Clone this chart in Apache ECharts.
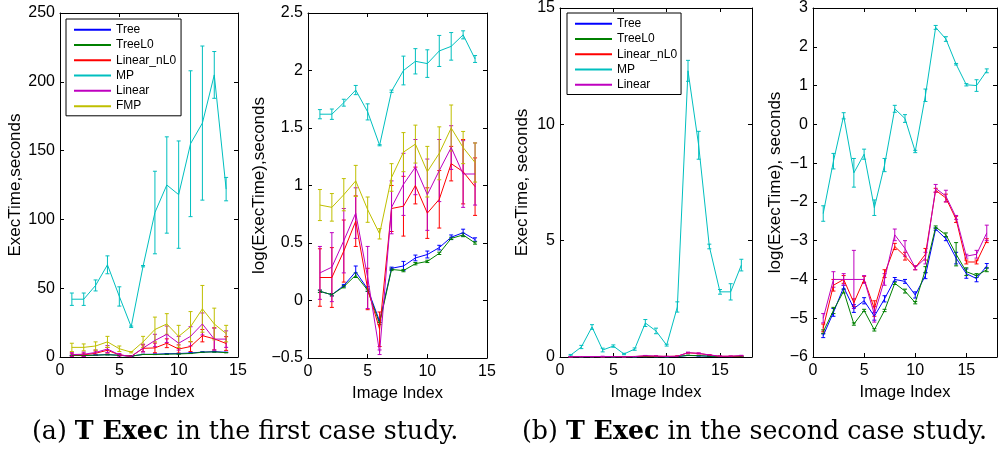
<!DOCTYPE html>
<html>
<head>
<meta charset="utf-8">
<script src="https://cdn.jsdelivr.net/npm/echarts@6/dist/echarts.min.js"></script>
<style>
  html, body { margin: 0; padding: 0; background: #fff; }
  #chart { width: 1000px; height: 452px; }
</style>
</head>
<body>
<div id="chart"></div>
<script>
// ---- (a) first case study, 14 images ----
const idxA = [1, 2, 3, 4, 5, 6, 7, 8, 9, 10, 11, 12, 13, 14];

const p1Tree = [1.2, 1.1, 1.35, 1.8, 1.25, 0.65, 1.9, 2.0, 2.35, 2.5, 2.9, 3.55, 3.9, 3.4];
const p1TreeErr = [0.05, 0.05, 0.05, 0.2, 0.1, 0.05, 0.05, 0.2, 0.15, 0.2, 0.15, 0.15, 0.25, 0.1];
const p1TreeL0 = [1.2, 1.1, 1.3, 1.65, 1.2, 0.6, 1.85, 1.8, 2.1, 2.2, 2.55, 3.45, 3.7, 3.15];
const p1TreeL0Err = [0.05, 0.05, 0.05, 0.1, 0.05, 0.05, 0.05, 0.05, 0.1, 0.05, 0.05, 0.1, 0.1, 0.1];
const p1LinearNL0 = [1.6, 1.6, 2.7, 4.9, 1.5, 0.5, 6.3, 6.6, 10, 5.8, 7.6, 15.5, 13.2, 9.8];
const p1LinearNL0Err = [1.2, 1.2, 1.6, 2.0, 0.5, 0.2, 2.5, 3.5, 3.2, 3.0, 3.6, 4.5, 8.0, 5.0];
const p1MP = [42, 42, 52, 67, 44, 22, 66, 105, 125, 118, 155, 170, 205, 122];
const p1MPErr = [4.5, 4.5, 4, 6.5, 7, 0.5, 0.5, 30, 35, 39, 53, 56, 17, 8.5];
const p1Linear = [1.8, 2, 3.3, 5.8, 1.6, 0.4, 6.5, 12, 16.5, 10, 15, 24, 13, 13];
const p1LinearErr = [1.3, 1.6, 1.8, 2.5, 1.0, 0.1, 2.8, 4.5, 6, 5, 7, 8, 8, 6];
const p1FMP = [7, 7, 8, 11, 6, 3.5, 11, 20, 24, 15, 22, 35, 24, 17];
const p1FMPErr = [3, 2.5, 3, 4, 2, 0.5, 4, 9, 7.5, 8, 11, 17, 11.5, 6];

const p2Tree = [0.08, 0.05, 0.13, 0.25, 0.1, -0.18, 0.28, 0.3, 0.37, 0.4, 0.46, 0.55, 0.59, 0.53];
const p2TreeErr = [0.01, 0.01, 0.01, 0.05, 0.02, 0.01, 0.01, 0.04, 0.025, 0.03, 0.02, 0.02, 0.03, 0.015];
const p2TreeL0 = [0.08, 0.05, 0.12, 0.22, 0.09, -0.2, 0.27, 0.26, 0.32, 0.34, 0.41, 0.54, 0.57, 0.5];
const p2TreeL0Err = [0.01, 0.01, 0.01, 0.02, 0.01, 0.01, 0.01, 0.01, 0.01, 0.01, 0.01, 0.01, 0.015, 0.01];
const p2LinearNL0 = [0.2, 0.2, 0.43, 0.69, 0.1, -0.25, 0.8, 0.82, 1.0, 0.76, 0.88, 1.19, 1.12, 0.99];
const p2LinearNL0Err = [0.25, 0.26, 0.27, 0.22, 0.18, 0.15, 0.2, 0.26, 0.16, 0.22, 0.25, 0.15, 0.28, 0.25];
const p2MP = [1.62, 1.62, 1.72, 1.83, 1.64, 1.35, 1.82, 2.0, 2.08, 2.06, 2.17, 2.21, 2.31, 2.1];
const p2MPErr = [0.04, 0.045, 0.03, 0.04, 0.07, 0.005, 0.01, 0.125, 0.11, 0.12, 0.135, 0.12, 0.035, 0.03];
const p2Linear = [0.24, 0.29, 0.52, 0.76, 0.2, -0.45, 0.81, 1.01, 1.16, 0.92, 1.13, 1.33, 1.1, 1.1];
const p2LinearErr = [0.23, 0.3, 0.28, 0.22, 0.27, 0.02, 0.23, 0.27, 0.24, 0.31, 0.27, 0.19, 0.29, 0.27];
const p2FMP = [0.83, 0.81, 0.92, 1.04, 0.79, 0.58, 1.07, 1.29, 1.36, 1.12, 1.28, 1.5, 1.33, 1.2];
const p2FMPErr = [0.135, 0.12, 0.14, 0.135, 0.11, 0.045, 0.12, 0.17, 0.165, 0.22, 0.23, 0.2, 0.14, 0.17];

// ---- (b) second case study, 17 images ----
const idxB = [1, 2, 3, 4, 5, 6, 7, 8, 9, 10, 11, 12, 13, 14, 15, 16, 17];

const p3Tree = [0.004, 0.008, 0.015, 0.009, 0.01, 0.007, 0.011, 0.018, 0.017, 0.012, 0.02, 0.067, 0.052, 0.032, 0.021, 0.019, 0.026];
const p3TreeErr = [0.001, 0.001, 0.001, 0.001, 0.001, 0.001, 0.001, 0.001, 0.001, 0.001, 0.002, 0.002, 0.003, 0.005, 0.003, 0.002, 0.002];
const p3TreeL0 = [0.005, 0.008, 0.014, 0.006, 0.008, 0.005, 0.008, 0.017, 0.014, 0.01, 0.024, 0.071, 0.058, 0.035, 0.022, 0.02, 0.024];
const p3TreeL0Err = [0.001, 0.001, 0.001, 0.001, 0.001, 0.001, 0.001, 0.001, 0.001, 0.001, 0.002, 0.002, 0.003, 0.01, 0.002, 0.001, 0.001];
const p3LinearNL0 = [0.005, 0.016, 0.018, 0.01, 0.018, 0.009, 0.021, 0.043, 0.033, 0.025, 0.035, 0.18, 0.15, 0.086, 0.029, 0.029, 0.05];
const p3LinearNL0Err = [0.001, 0.002, 0.002, 0.001, 0.002, 0.002, 0.002, 0.004, 0.003, 0.001, 0.005, 0.01, 0.015, 0.007, 0.002, 0.002, 0.003];
const p3MP = [0.08, 0.43, 1.29, 0.3, 0.47, 0.13, 0.34, 1.46, 1.12, 0.51, 2.15, 12.3, 9.1, 4.75, 2.8, 2.8, 3.95];
const p3MPErr = [0.03, 0.07, 0.1, 0.08, 0.05, 0.03, 0.05, 0.15, 0.12, 0.04, 0.22, 0.45, 0.6, 0.1, 0.1, 0.35, 0.25];
const p3Linear = [0.007, 0.018, 0.018, 0.018, 0.018, 0.007, 0.018, 0.058, 0.041, 0.025, 0.032, 0.19, 0.157, 0.091, 0.033, 0.035, 0.061];
const p3LinearErr = [0.001, 0.004, 0.003, 0.015, 0.002, 0.001, 0.003, 0.009, 0.008, 0.001, 0.005, 0.02, 0.02, 0.005, 0.002, 0.004, 0.012];

const p4Tree = [-5.45, -4.85, -4.2, -4.75, -4.55, -4.95, -4.5, -4.0, -4.05, -4.4, -3.9, -2.7, -2.95, -3.45, -3.85, -3.98, -3.65];
const p4TreeErr = [0.05, 0.1, 0.05, 0.1, 0.08, 0.1, 0.08, 0.05, 0.05, 0.08, 0.08, 0.03, 0.05, 0.15, 0.12, 0.08, 0.06];
const p4TreeL0 = [-5.35, -4.8, -4.3, -5.15, -4.8, -5.3, -4.8, -4.1, -4.3, -4.6, -3.75, -2.65, -2.85, -3.35, -3.8, -3.9, -3.75];
const p4TreeL0Err = [0.05, 0.08, 0.05, 0.03, 0.03, 0.03, 0.03, 0.03, 0.05, 0.03, 0.08, 0.03, 0.05, 0.3, 0.1, 0.05, 0.05];
const p4LinearNL0 = [-5.25, -4.15, -4.0, -4.6, -4.0, -4.75, -3.85, -3.15, -3.4, -3.7, -3.35, -1.7, -1.9, -2.45, -3.55, -3.55, -3.0];
const p4LinearNL0Err = [0.1, 0.15, 0.1, 0.1, 0.08, 0.2, 0.1, 0.08, 0.1, 0.05, 0.15, 0.05, 0.1, 0.08, 0.05, 0.05, 0.05];
const p4MP = [-2.3, -0.95, 0.22, -1.25, -0.77, -2.15, -1.05, 0.4, 0.15, -0.7, 0.75, 2.5, 2.2, 1.55, 1.02, 1.0, 1.38];
const p4MPErr = [0.2, 0.2, 0.08, 0.37, 0.13, 0.2, 0.17, 0.09, 0.1, 0.03, 0.16, 0.05, 0.06, 0.02, 0.03, 0.15, 0.05];
const p4Linear = [-5.0, -4.0, -4.0, -4.0, -4.0, -4.9, -4.0, -2.85, -3.2, -3.7, -3.45, -1.65, -1.85, -2.4, -3.4, -3.35, -2.8];
const p4LinearErr = [0.12, 0.2, 0.15, 0.75, 0.1, 0.2, 0.15, 0.15, 0.2, 0.05, 0.15, 0.1, 0.15, 0.05, 0.05, 0.1, 0.2];

// axis ticks
const yTicks1 = { min: 0, max: 250, interval: 50 };
const yTicks2 = { min: -0.5, max: 2.5, interval: 0.5 };
const yTicks3 = { min: 0, max: 15, interval: 5 };
const yTicks4 = { min: -6, max: 3, interval: 1 };
const xTicksA = { min: 0, max: 15, interval: 5 };
const xTicksB = { min: 0, max: 18, interval: 5 };

const colors = {
    Tree: '#0000ff',
    TreeL0: '#008000',
    Linear_nL0: '#ff0000',
    MP: '#00bfbf',
    Linear: '#bf00bf',
    FMP: '#bfbf00',
};

const panels = [
    {
        grid: { left: 60, top: 13, width: 178, height: 344 },
        x: idxA, xTicks: xTicksA, yTicks: yTicks1,
        yName: 'ExecTime,seconds', yGap: 36,
        lines: [
            ['Tree', p1Tree, p1TreeErr],
            ['TreeL0', p1TreeL0, p1TreeL0Err],
            ['Linear_nL0', p1LinearNL0, p1LinearNL0Err],
            ['MP', p1MP, p1MPErr],
            ['Linear', p1Linear, p1LinearErr],
            ['FMP', p1FMP, p1FMPErr],
        ],
    },
    {
        grid: { left: 308, top: 13, width: 179, height: 345 },
        x: idxA, xTicks: xTicksA, yTicks: yTicks2,
        yName: 'log(ExecTime),seconds', yGap: 37,
        lines: [
            ['Tree', p2Tree, p2TreeErr],
            ['TreeL0', p2TreeL0, p2TreeL0Err],
            ['Linear_nL0', p2LinearNL0, p2LinearNL0Err],
            ['MP', p2MP, p2MPErr],
            ['Linear', p2Linear, p2LinearErr],
            ['FMP', p2FMP, p2FMPErr],
        ],
    },
    {
        grid: { left: 560, top: 7, width: 192, height: 350 },
        x: idxB, xTicks: xTicksB, yTicks: yTicks3,
        yName: 'ExecTime, seconds', yGap: 29,
        lines: [
            ['Tree', p3Tree, p3TreeErr],
            ['TreeL0', p3TreeL0, p3TreeL0Err],
            ['Linear_nL0', p3LinearNL0, p3LinearNL0Err],
            ['MP', p3MP, p3MPErr],
            ['Linear', p3Linear, p3LinearErr],
        ],
    },
    {
        grid: { left: 813, top: 7, width: 192, height: 350 },
        x: idxB, xTicks: xTicksB, yTicks: yTicks4,
        yName: 'log(ExecTime), seconds', yGap: 29,
        lines: [
            ['Tree', p4Tree, p4TreeErr],
            ['TreeL0', p4TreeL0, p4TreeL0Err],
            ['Linear_nL0', p4LinearNL0, p4LinearNL0Err],
            ['MP', p4MP, p4MPErr],
            ['Linear', p4Linear, p4LinearErr],
        ],
    },
];

const font = 'Liberation Sans, Arial, sans-serif';
const serif = 'DejaVu Serif, serif';
const minus = (v) => String(v).replace('-', '\u2212');

// vertical error bar with small caps, placed through the axis scales
const errorBar = (params, api) => {
    const x = api.value(0);
    const y = api.value(1);
    const e = api.value(2);
    const hi = api.coord([x, y + e]);
    const lo = api.coord([x, y - e]);
    const cap = 2;
    const style = { stroke: api.visual('color'), lineWidth: 1 };
    return {
        type: 'group',
        children: [
            { type: 'line', shape: { x1: hi[0], y1: hi[1], x2: lo[0], y2: lo[1] }, style },
            { type: 'line', shape: { x1: hi[0] - cap, y1: hi[1], x2: hi[0] + cap, y2: hi[1] }, style },
            { type: 'line', shape: { x1: lo[0] - cap, y1: lo[1], x2: lo[0] + cap, y2: lo[1] }, style },
        ],
    };
};

const grid = [];
const xAxis = [];
const yAxis = [];
const series = [];

panels.forEach((p, i) => {
    grid.push({ ...p.grid, containLabel: false });

    const tick = { show: true, inside: true, length: 4, lineStyle: { color: '#000' } };
    const line = { show: true, onZero: false, lineStyle: { color: '#000', width: 1 } };

    xAxis.push({
        type: 'value', gridIndex: i, ...p.xTicks,
        axisLine: line, axisTick: tick, splitLine: { show: false },
        axisLabel: {
            color: '#000', fontSize: 16, fontFamily: font, margin: 6,
            formatter: (v) => (v % 5 === 0 ? String(v) : ''),
        },
        name: 'Image Index', nameLocation: 'middle', nameGap: 24,
        nameTextStyle: { color: '#000', fontSize: 16.5, fontFamily: font },
    });
    xAxis.push({
        type: 'value', gridIndex: i, position: 'top', ...p.xTicks,
        axisLine: line, axisTick: tick, axisLabel: { show: false }, splitLine: { show: false },
    });
    yAxis.push({
        type: 'value', gridIndex: i, ...p.yTicks,
        axisLine: line, axisTick: tick, splitLine: { show: false },
        axisLabel: { color: '#000', fontSize: 16, fontFamily: font, margin: 5, formatter: minus },
        name: p.yName, nameLocation: 'middle', nameGap: p.yGap,
        nameTextStyle: { color: '#000', fontSize: 17, fontFamily: font },
    });
    yAxis.push({
        type: 'value', gridIndex: i, position: 'right', ...p.yTicks,
        axisLine: line, axisTick: tick, axisLabel: { show: false }, splitLine: { show: false },
    });

    p.lines.forEach(([name, vals, errs]) => {
        const color = colors[name];
        series.push({
            name, type: 'line',
            xAxisIndex: 2 * i, yAxisIndex: 2 * i,
            data: vals.map((v, k) => [p.x[k], v]),
            showSymbol: false, symbol: 'none',
            lineStyle: { color, width: 1 },
            itemStyle: { color },
            silent: true,
        });
        series.push({
            type: 'custom',
            xAxisIndex: 2 * i, yAxisIndex: 2 * i,
            data: vals.map((v, k) => [p.x[k], v, errs[k]]),
            encode: { x: 0, y: 1 },
            renderItem: errorBar,
            itemStyle: { color },
            silent: true,
        });
    });
});

const legendBase = {
    orient: 'vertical',
    icon: 'rect',
    itemWidth: 37,
    itemHeight: 2,
    itemGap: 0,
    selectedMode: false,
    backgroundColor: '#fff',
    borderColor: '#000',
    borderWidth: 1,
    borderRadius: 0,
    textStyle: { color: '#000', fontSize: 12, fontFamily: font, lineHeight: 15.3 },
};

const captionRich = {
    n: { fontSize: 25.3, fontFamily: serif, fill: '#000' },
    b: { fontSize: 25.3, fontFamily: serif, fontWeight: 'bold', fill: '#000' },
};

const chart = echarts.init(document.getElementById('chart'));

chart.setOption({
    backgroundColor: '#fff',
    animation: false,
    grid,
    xAxis,
    yAxis,
    legend: [
        {
            ...legendBase, left: 66, top: 19, padding: [3, 5, 2, 8],
            data: ['Tree', 'TreeL0', 'Linear_nL0', 'MP', 'Linear', 'FMP'],
        },
        {
            ...legendBase, left: 567, top: 13, padding: [3, 4, 2, 8],
            data: ['Tree', 'TreeL0', 'Linear_nL0', 'MP', 'Linear'],
        },
    ],
    graphic: [
        {
            type: 'text', left: 32, top: 420,
            style: { text: '{n|(a) }{b|T Exec}{n| in the first case study.}', rich: captionRich },
        },
        {
            type: 'text', left: 522, top: 420,
            style: { text: '{n|(b) }{b|T Exec}{n| in the second case study.}', rich: captionRich },
        },
    ],
    series,
});
</script>
</body>
</html>
